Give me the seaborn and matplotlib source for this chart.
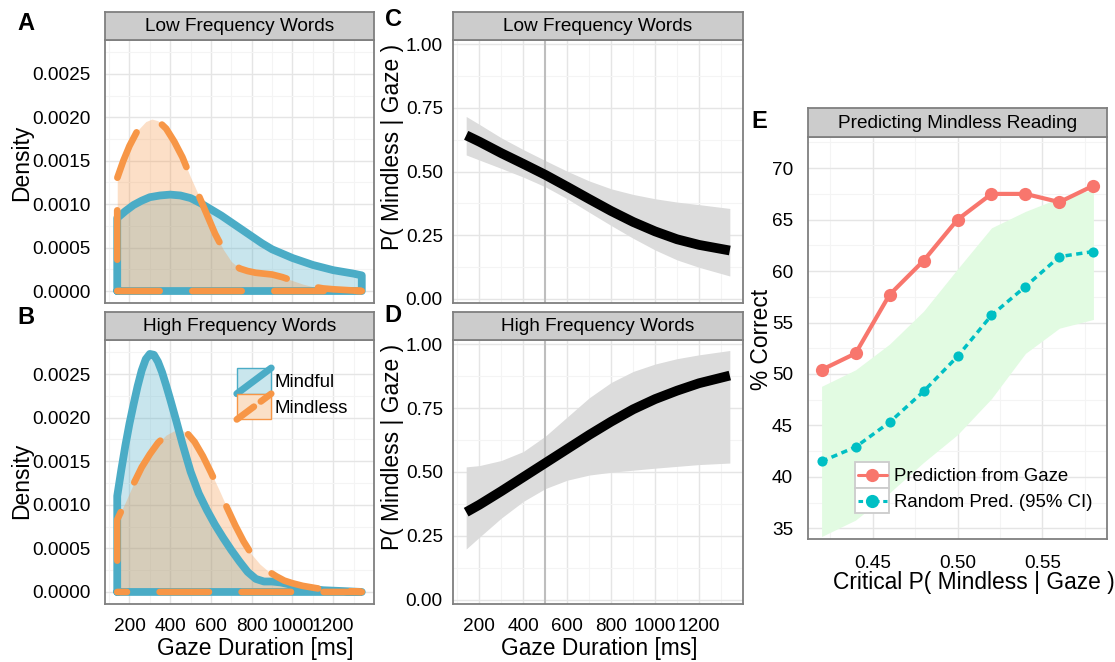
import numpy as np
import pandas as pd
import matplotlib
matplotlib.use("Agg")
import matplotlib.pyplot as plt
import seaborn as sns
from matplotlib.legend_handler import HandlerBase
from matplotlib.patches import Rectangle
from matplotlib.lines import Line2D

# ---------------- data ----------------
# Panel A: low frequency words, density of gaze duration
low_mindful_x = [140, 180, 220, 260, 300, 350, 400, 450, 500, 550, 600, 650, 700, 750, 800,
                 850, 900, 950, 1000, 1050, 1100, 1150, 1200, 1250, 1300, 1340]
low_mindful_y = [0.00084, 0.00092, 0.00099, 0.00104, 0.00108, 0.00110, 0.00111, 0.00110, 0.00107,
                 0.00101, 0.00094, 0.00087, 0.00079, 0.00071, 0.00063, 0.00055, 0.00048, 0.00043,
                 0.00038, 0.00034, 0.00030, 0.00027, 0.00024, 0.00022, 0.00020, 0.00018]
low_mindless_x = [140, 170, 200, 240, 280, 310, 340, 380, 420, 460, 500, 540, 580, 620, 660, 700,
                  740, 780, 820, 860, 900, 950, 1000, 1050, 1100, 1150, 1200, 1270, 1340]
low_mindless_y = [0.00130, 0.00150, 0.00167, 0.00185, 0.00195, 0.00198, 0.00196, 0.00187, 0.00172,
                  0.00154, 0.00131, 0.00110, 0.00088, 0.00066, 0.00048, 0.00034, 0.00026, 0.00023,
                  0.00021, 0.00020, 0.00019, 0.00016, 0.00012, 0.00008, 0.00005, 0.00003, 0.00002,
                  0.00001, 0.00000]
# Panel B: high frequency words
high_mindful_x = [140, 160, 180, 200, 220, 240, 260, 280, 300, 320, 340, 360, 380, 400, 430, 460,
                  500, 540, 580, 620, 660, 700, 740, 780, 820, 860, 900, 940, 980, 1020, 1080,
                  1150, 1250, 1340]
high_mindful_y = [0.00110, 0.00140, 0.00168, 0.00193, 0.00215, 0.00236, 0.00254, 0.00267, 0.00273,
                  0.00272, 0.00264, 0.00252, 0.00237, 0.00221, 0.00196, 0.00170, 0.00138, 0.00113,
                  0.00094, 0.00077, 0.00062, 0.00048, 0.00035, 0.00023, 0.00015, 0.00012, 0.00012,
                  0.00011, 0.00009, 0.00006, 0.00004, 0.00002, 0.00001, 0.00000]
high_mindless_x = [140, 180, 220, 260, 300, 340, 380, 420, 450, 480, 520, 560, 600, 640, 680, 720,
                   760, 800, 840, 880, 920, 960, 1000, 1050, 1100, 1150, 1200, 1270, 1340]
high_mindless_y = [0.00083, 0.00103, 0.00124, 0.00143, 0.00158, 0.00171, 0.00180, 0.00185, 0.00186,
                   0.00183, 0.00172, 0.00156, 0.00137, 0.00117, 0.00096, 0.00076, 0.00058, 0.00043,
                   0.00032, 0.00024, 0.00018, 0.00013, 0.00010, 0.00007, 0.00005, 0.00003, 0.00002,
                   0.00001, 0.00000]
group_labels = ["Mindful", "Mindless"]

# Panels C/D: logistic fit P(Mindless | Gaze)
gaze_x = [140, 200, 300, 400, 500, 600, 700, 800, 900, 1000, 1100, 1200, 1340]
low_fit = [0.642, 0.617, 0.572, 0.530, 0.487, 0.440, 0.392, 0.345, 0.302, 0.265, 0.234, 0.212, 0.190]
low_lo = [0.565, 0.545, 0.512, 0.478, 0.440, 0.393, 0.340, 0.288, 0.238, 0.192, 0.153, 0.124, 0.090]
low_hi = [0.716, 0.685, 0.632, 0.586, 0.543, 0.501, 0.463, 0.432, 0.410, 0.393, 0.380, 0.370, 0.355]
high_fit = [0.343, 0.372, 0.425, 0.480, 0.535, 0.590, 0.645, 0.697, 0.745, 0.785, 0.818, 0.847, 0.877]
high_lo = [0.199, 0.245, 0.320, 0.385, 0.435, 0.468, 0.488, 0.499, 0.507, 0.515, 0.522, 0.529, 0.535]
high_hi = [0.520, 0.525, 0.545, 0.580, 0.640, 0.715, 0.790, 0.850, 0.893, 0.922, 0.943, 0.958, 0.975]
critical_gaze = 500

# Panel E: prediction accuracy
crit_p = [0.42, 0.44, 0.46, 0.48, 0.50, 0.52, 0.54, 0.56, 0.58]
pred_gaze = [50.4, 52.0, 57.7, 61.0, 65.0, 67.5, 67.5, 66.7, 68.3]
pred_rand = [41.5, 42.9, 45.3, 48.3, 51.7, 55.7, 58.5, 61.4, 61.9]
rand_lo = [34.2, 35.8, 38.45, 41.4, 44.1, 47.6, 52.0, 54.45, 55.3]
rand_hi = [48.8, 50.4, 52.9, 56.1, 60.2, 64.2, 65.8, 67.1, 67.9]
e_labels = ["Prediction from Gaze", "Random Pred. (95% CI)"]

# tick labels
dens_ticks = [0.0, 0.0005, 0.0010, 0.0015, 0.0020, 0.0025]
dens_ticklabels = ["0.0000", "0.0005", "0.0010", "0.0015", "0.0020", "0.0025"]
gaze_ticks = [200, 400, 600, 800, 1000, 1200]
gaze_ticklabels = ["200", "400", "600", "800", "1000", "1200"]
prob_ticks = [0.0, 0.25, 0.5, 0.75, 1.0]
prob_ticklabels = ["0.00", "0.25", "0.50", "0.75", "1.00"]
e_xticks = [0.45, 0.50, 0.55]
e_xticklabels = ["0.45", "0.50", "0.55"]
e_yticks = [35, 40, 45, 50, 55, 60, 65, 70]
e_yticklabels = ["35", "40", "45", "50", "55", "60", "65", "70"]

# ---------------- style ----------------
sns.set_style("white")
plt.rcParams['font.family'] = ['Liberation Sans', 'DejaVu Sans']
plt.rcParams['text.color'] = 'black'
plt.rcParams['axes.labelcolor'] = 'black'
plt.rcParams['xtick.color'] = 'black'
plt.rcParams['ytick.color'] = 'black'

BLUE = "#4BACC6"
ORANGE = "#F79646"
RED = "#F8766D"
CYAN = "#00BFC4"
FS_TICK = 13.7
FS_TITLE = 16.4
FS_STRIP = 13.7

W, H = 1115, 662
fig = plt.figure(figsize=(W / 100, H / 100), dpi=100)


def px_axes(x0, y0, x1, y1):
    return fig.add_axes([x0 / W, 1 - y1 / H, (x1 - x0) / W, (y1 - y0) / H])


def strip(x0, y0, x1, y1, text):
    sa = px_axes(x0, y0, x1, y1)
    sa.set_facecolor('#CCCCCC')
    sa.set_xticks([])
    sa.set_yticks([])
    for s in sa.spines.values():
        s.set_visible(True)
        s.set_color('#7F7F7F')
        s.set_linewidth(1.3)
    sa.text(0.5, 0.47, text, ha='center', va='center', fontsize=FS_STRIP, color='black',
            transform=sa.transAxes)


def style(ax, xlim, ylim, xmaj, xmin, ymaj, ymin, xlabels, ylabels, ypad=4.3, xpad=4.3):
    ax.set_facecolor('white')
    ax.set_xlim(*xlim)
    ax.set_ylim(*ylim)
    ax.set_xticks(xmaj)
    ax.set_xticks(xmin, minor=True)
    ax.set_yticks(ymaj)
    ax.set_yticks(ymin, minor=True)
    ax.set_yticklabels(ylabels)
    if xlabels is None:
        ax.tick_params(axis='x', which='both', labelbottom=False, length=0)
    else:
        ax.set_xticklabels(xlabels)
        ax.tick_params(axis='x', which='major', length=5.8, width=1, color='#444444',
                       labelsize=FS_TICK, pad=xpad, labelcolor='black')
    ax.tick_params(axis='y', which='major', length=5.8, width=1, color='#444444',
                   labelsize=FS_TICK, pad=ypad, labelcolor='black')
    ax.tick_params(which='minor', length=0)
    ax.grid(True, which='major', color='#E5E5E5', lw=1.0)
    ax.grid(True, which='minor', color='#F4F4F4', lw=0.8)
    ax.set_axisbelow(True)
    for s in ax.spines.values():
        s.set_visible(True)
        s.set_color('#7F7F7F')
        s.set_linewidth(1.3)
    ax.set_xlabel("")
    ax.set_ylabel("")


DASH = (7.6, (7.4, 4.9))


def density_panel(ax, xs_b, ys_b, xs_o, ys_o):
    ax.fill_between(xs_b, 0, ys_b, color=BLUE, alpha=0.3, lw=0)
    ax.fill_between(xs_o, 0, ys_o, color=ORANGE, alpha=0.3, lw=0)
    for xs, ys, col, ls, lw in [(xs_b, ys_b, BLUE, '-', 5.6), (xs_o, ys_o, ORANGE, DASH, 4.8)]:
        xc = [xs[0]] + list(xs) + [xs[-1], xs[0]]
        yc = [0.0] + list(ys) + [0.0, 0.0]
        sns.lineplot(x=xc, y=yc, sort=False, estimator=None, color=col, lw=lw,
                     linestyle=ls, solid_capstyle='round', dash_capstyle='round',
                     solid_joinstyle='round', ax=ax)


dens_ylim = (-0.000138, 0.00289)
gaze_xlim = (80, 1400)
gaze_minor = [100, 300, 500, 700, 900, 1100, 1300]
dens_minor = [0.00025, 0.00075, 0.00125, 0.00175, 0.00225, 0.00275]

# ----- Panel A -----
axA = px_axes(105, 40, 374, 303)
density_panel(axA, low_mindful_x, low_mindful_y, low_mindless_x, low_mindless_y)
style(axA, gaze_xlim, dens_ylim, gaze_ticks, gaze_minor, dens_ticks, dens_minor, None, dens_ticklabels)
strip(105, 12, 374, 40, "Low Frequency Words")

# ----- Panel B -----
axB = px_axes(105, 340, 374, 604)
density_panel(axB, high_mindful_x, high_mindful_y, high_mindless_x, high_mindless_y)
style(axB, gaze_xlim, dens_ylim, gaze_ticks, gaze_minor, dens_ticks, dens_minor,
      gaze_ticklabels, dens_ticklabels)
strip(105, 312, 374, 340, "High Frequency Words")


class KeyHandler(HandlerBase):
    def __init__(self, kind, color, fill=None, ls='-', lw=4.0, ms=8.0):
        super().__init__()
        self.kind, self.color, self.fill, self.ls, self.lw, self.ms = kind, color, fill, ls, lw, ms

    def create_artists(self, legend, orig_handle, xdescent, ydescent, width, height, fontsize, trans):
        x0, y0 = -xdescent, -ydescent
        if self.kind == 'density':
            r = Rectangle((x0, y0), width, height, facecolor=self.fill, edgecolor=self.color,
                          lw=1.0, transform=trans)
            l = Line2D([x0, x0 + width], [y0, y0 + height], color=self.color, lw=self.lw,
                       linestyle=self.ls, solid_capstyle='round', dash_capstyle='round',
                       transform=trans)
            return [r, l]
        r = Rectangle((x0, y0), width, height, facecolor='white', edgecolor='#CCCCCC',
                      lw=1.3, transform=trans)
        l = Line2D([x0 + 2, x0 + width - 2], [y0 + height / 2] * 2, color=self.color, lw=self.lw,
                   linestyle=self.ls, transform=trans)
        m = Line2D([x0 + width / 2], [y0 + height / 2], marker='o', ms=self.ms, color=self.color,
                   linestyle='none', markeredgewidth=0, transform=trans)
        return [r, l, m]


hb1, hb2 = Line2D([], []), Line2D([], [])
axB.legend(handles=[hb1, hb2], labels=group_labels,
           handler_map={hb1: KeyHandler('density', BLUE, fill=(0.79, 0.90, 0.93), lw=5.0),
                        hb2: KeyHandler('density', ORANGE, fill=(0.98, 0.88, 0.78), lw=4.8,
                                        ls=(0, (3.2, 1.3)))},
           loc='upper left', bbox_to_anchor=(0.49, 0.894), frameon=False, borderpad=0,
           borderaxespad=0, labelspacing=0, handlelength=1.85, handleheight=1.75,
           handletextpad=0.2, fontsize=13.4)

# ----- Panels C / D -----
prob_ylim = (-0.016, 1.016)
prob_minor = [0.125, 0.375, 0.625, 0.875]


def prob_panel(ax, fit, lo, hi):
    ax.fill_between(gaze_x, lo, hi, color='#DCDCDC', lw=0)
    ax.axvline(critical_gaze, color='#BEBEBE', lw=1.5)
    sns.lineplot(x=gaze_x, y=fit, color='black', lw=7.0, solid_capstyle='butt',
                 solid_joinstyle='round', ax=ax)


axC = px_axes(453, 40, 743, 303)
prob_panel(axC, low_fit, low_lo, low_hi)
style(axC, gaze_xlim, prob_ylim, gaze_ticks, gaze_minor, prob_ticks, prob_minor, None,
      prob_ticklabels, ypad=1.5)
strip(453, 12, 743, 40, "Low Frequency Words")

axD = px_axes(453, 340, 743, 604)
prob_panel(axD, high_fit, high_lo, high_hi)
style(axD, gaze_xlim, prob_ylim, gaze_ticks, gaze_minor, prob_ticks, prob_minor,
      gaze_ticklabels, prob_ticklabels, ypad=1.5)
strip(453, 312, 743, 340, "High Frequency Words")

# ----- Panel E -----
axE = px_axes(808, 137, 1107, 539)
axE.fill_between(crit_p, rand_lo, rand_hi, color='#E2FBE2', lw=0)
RDASH = (0, (1.8, 1.3))
sns.lineplot(x=crit_p, y=pred_gaze, color=RED, lw=3.0, marker='o', markersize=9.5,
             markeredgecolor=RED, markeredgewidth=0, ax=axE)
sns.lineplot(x=crit_p, y=pred_rand, color=CYAN, lw=2.5, linestyle=RDASH, marker='o',
             markersize=7.3, markeredgecolor=CYAN, markeredgewidth=0, ax=axE)
style(axE, (0.412, 0.588), (33.96, 73.03), e_xticks, [0.425, 0.475, 0.525, 0.575],
      e_yticks, [37.5, 42.5, 47.5, 52.5, 57.5, 62.5, 67.5, 72.5], e_xticklabels, e_yticklabels,
      ypad=5.0, xpad=5.5)
strip(808, 108, 1107, 137, "Predicting Mindless Reading")

he1, he2 = Line2D([], []), Line2D([], [])
axE.legend(handles=[he1, he2], labels=e_labels,
           handler_map={he1: KeyHandler('point', RED, lw=2.2, ms=9.5),
                        he2: KeyHandler('point', CYAN, lw=2.2, ms=9.5, ls=(0, (1.5, 1.2)))},
           loc='upper left', bbox_to_anchor=(0.157, 0.1915), frameon=False, borderpad=0,
           borderaxespad=0, labelspacing=0, handlelength=1.85, handleheight=1.75,
           handletextpad=0.25, fontsize=13.4)

# ----- axis titles -----
fig.text(22 / W, 1 - 163 / H, "Density", rotation=90, ha='center', va='center', fontsize=FS_TITLE)
fig.text(22 / W, 1 - 481 / H, "Density", rotation=90, ha='center', va='center', fontsize=FS_TITLE)
fig.text(255 / W, 1 - 648 / H, "Gaze Duration [ms]", ha='center', va='center', fontsize=FS_TITLE)
fig.text(392 / W, 1 - 147 / H, "P( Mindless | Gaze )", rotation=90, ha='center', va='center',
         fontsize=FS_TITLE)
fig.text(392 / W, 1 - 447 / H, "P( Mindless | Gaze )", rotation=90, ha='center', va='center',
         fontsize=FS_TITLE)
fig.text(599 / W, 1 - 648 / H, "Gaze Duration [ms]", ha='center', va='center', fontsize=FS_TITLE)
fig.text(762 / W, 1 - 339 / H, "% Correct", rotation=90, ha='center', va='center', fontsize=FS_TITLE)
fig.text(974 / W, 1 - 583 / H, "Critical P( Mindless | Gaze )", ha='center', va='center',
         fontsize=FS_TITLE)

# ----- panel letters -----
for letter, (px, py) in {"A": (26, 24), "B": (26, 318), "C": (393, 20), "D": (393, 315),
                         "E": (759, 122)}.items():
    fig.text(px / W, 1 - py / H, letter, ha='center', va='center', fontsize=17, fontweight='bold')

fig.savefig("out.png", dpi=100)
